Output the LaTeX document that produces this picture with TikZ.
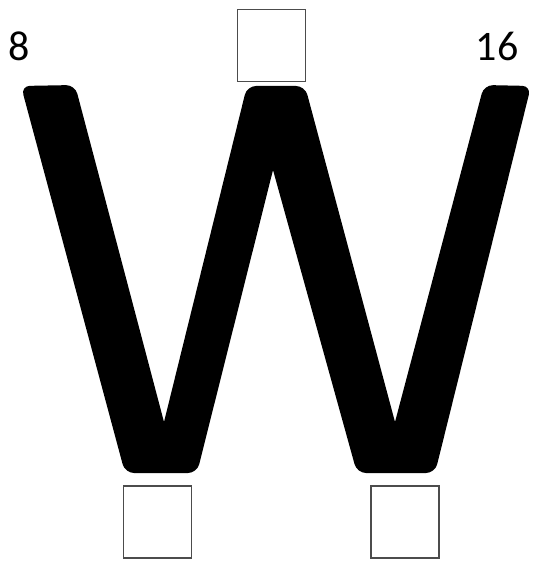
\documentclass[tikz,border=0pt]{standalone}
\usepackage{fontspec}
\setmainfont{Carlito}
\usetikzlibrary{positioning}
\begin{document}
\begin{tikzpicture}[
  x=1pt, y=-1pt,
  slot/.style={draw=black!70, line width=1.8pt, fill=white, inner sep=0pt,
               minimum width=68pt, minimum height=72pt},
  num/.style={font=\fontsize{42}{42}\selectfont, inner sep=0pt}
]
\useasboundingbox (0,0) rectangle (533,561);
\fill[black] (164,422) [rounded corners=9pt] -- (247,86) -- (305,86)
  [sharp corners] -- (395,422) [rounded corners=9pt] -- (484,85) -- (531,86)
  -- (435,473) -- (357,473) [sharp corners] -- (273,170)
  [rounded corners=9pt] -- (197,473) -- (125,473) -- (21,86) -- (75,85)
  [sharp corners] -- cycle;
\node[num] (left) at (19,46) {8};
\node[num] (right) at (497,46) {16};
\node[slot] (slotT) at (271.5,45.5) {};
\node[slot] (slotL) at (157.5,522) {};
\node[slot, right=178pt of slotL] (slotR) {};
\end{tikzpicture}
\end{document}
